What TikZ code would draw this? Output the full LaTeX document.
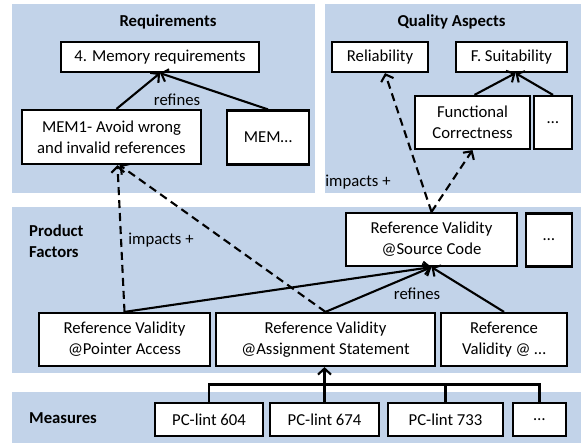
\documentclass[tikz,border=0pt]{standalone}
\usepackage{fontspec}
\setmainfont{Carlito}
\usetikzlibrary{arrows.meta}
\definecolor{panelblue}{RGB}{194,211,233}
\begin{document}
\begin{tikzpicture}[x=1pt,y=-1pt,
  font=\fontsize{16.7}{21}\selectfont,
  panel/.style={fill=panelblue,draw=none},
  box/.style={draw=black,fill=white,line width=2.2pt,align=center,inner sep=0pt},
  title/.style={font=\fontsize{16.7}{21}\selectfont\bfseries},
  arr/.style={line width=2.1pt,-{Straight Barb[length=6pt,width=13pt]}},
  dasharr/.style={arr,dash pattern=on 8pt off 5pt},
  plain/.style={line width=2.1pt},
  lbl/.style={inner sep=0pt}
]
\useasboundingbox (0,0) rectangle (581,444);
% panels
\fill[panel] (12,4) rectangle (315,193);
\fill[panel] (325,4) rectangle (581,193);
\fill[panel] (12,207) rectangle (581,373);
\fill[panel] (12,392) rectangle (581,443);
% titles
\node[title] (treq) at (168,22) {Requirements};
\node[title] (tqa) at (451.5,22) {Quality Aspects};
\node[title,align=left,anchor=west,inner sep=0pt] (tpf) at (29,241) {Product\\Factors};
\node[title,anchor=west,inner sep=0pt] (tme) at (29,418) {Measures};
% requirements
\node[box,minimum width=198,minimum height=30] (mem4) at (160,57) {4. Memory requirements};
\node[box,minimum width=179,minimum height=54] (mem1) at (111.5,137) {MEM1- Avoid wrong\\and invalid references};
\node[box,minimum width=82,minimum height=54] (memx) at (268,137.5) {MEM…};
% quality aspects
\node[box,minimum width=96,minimum height=30] (rel) at (380,57) {Reliability};
\node[box,minimum width=111,minimum height=30] (fsuit) at (511.5,57) {F. Suitability};
\node[box,minimum width=115,minimum height=53] (fcorr) at (472.5,122.5) {Functional\\Correctness};
\node[box,minimum width=38,minimum height=53] (qdots) at (553,122.5) {…};
% product factors
\node[box,minimum width=171,minimum height=53] (rvsc) at (431.5,239.5) {Reference Validity\\@Source Code};
\node[box,minimum width=46,minimum height=53] (pdots) at (549,240) {…};
\node[box,minimum width=171,minimum height=53] (rvpa) at (124.5,339.5) {Reference Validity\\@Pointer Access};
\node[box,minimum width=219,minimum height=53] (rvas) at (325.5,339.5) {Reference Validity\\@Assignment Statement};
\node[box,minimum width=126,minimum height=53] (rvx) at (504,339.5) {Reference\\Validity @ …};
% measures
\node[box,minimum width=108,minimum height=33] (pc604) at (209,419.5) {PC-lint 604};
\node[box,minimum width=109,minimum height=33] (pc674) at (324.5,419.5) {PC-lint 674};
\node[box,minimum width=115,minimum height=33] (pc733) at (445.5,419.5) {PC-lint 733};
\node[box,minimum width=53,minimum height=33] (mdots) at (539.5,419.5) {…};
% requirement connectors
\draw[arr] ([xshift=5pt]mem1.north) -- (mem4.south);
\draw[arr] (memx.north) -- (mem4.south);
\node[lbl] (ref1) at (177,100) {refines};
% quality connectors
\draw[arr] ([xshift=2pt]fcorr.north) -- ([xshift=4pt]fsuit.south);
\draw[arr] (qdots.north) -- ([xshift=4pt]fsuit.south);
\draw[dasharr] (rvsc.north) -- ([xshift=5pt]rel.south);
\draw[dasharr] (rvsc.north) -- (fcorr.south);
\node[lbl] (imp1) at (358,182) {impacts +};
% product factor connectors
\draw[dasharr] (rvpa.north) -- ([xshift=6pt]mem1.south);
\draw[dasharr] (rvas.north) -- ([xshift=8pt]mem1.south);
\node[lbl] (imp2) at (161,240) {impacts +};
\draw[arr] (rvpa.north) -- (rvsc.south);
\draw[arr] (rvas.north) -- (rvsc.south);
\draw[arr] (rvx.north) -- (rvsc.south);
\node[lbl] (ref2) at (417,294) {refines};
% measure connectors
\coordinate (bus) at (0,384.5);
\draw[plain] (pc604.north) -- (pc604.north |- bus) -| (mdots.north);
\draw[plain] (pc733.north) -- (pc733.north |- bus);
\draw[arr] (pc674.north) -- (pc674.north |- rvas.south);
\end{tikzpicture}
\end{document}
